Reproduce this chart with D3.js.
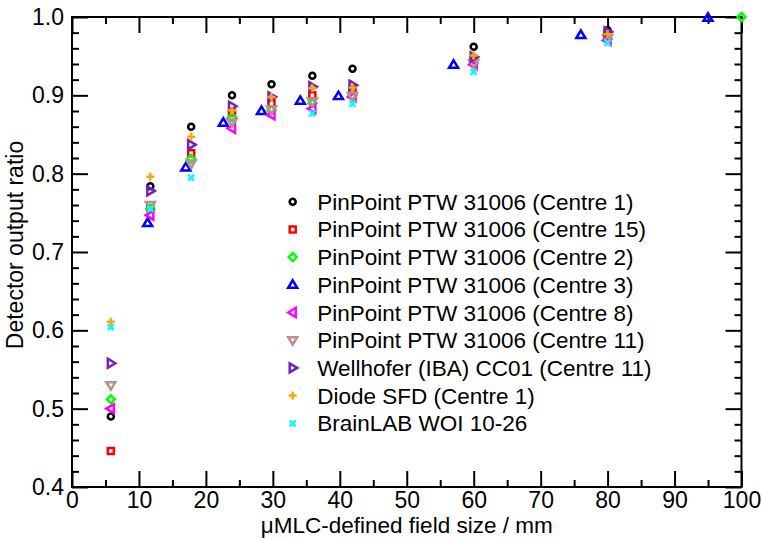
<!DOCTYPE html>
<html lang="en">
<head>
<meta charset="utf-8">
<title>Detector output ratio</title>
<script src="https://d3js.org/d3.v7.min.js"></script>
<style>
  body { margin: 0; background: #fff; }
  text { font-family: "Liberation Sans", Arial, Helvetica, sans-serif; fill: #000; }
</style>
</head>
<body>
<div id="chart"></div>
<script>
// series names (legend order = draw order)
const seriesNames = [
  "PinPoint PTW 31006 (Centre 1)",
  "PinPoint PTW 31006 (Centre 15)",
  "PinPoint PTW 31006 (Centre 2)",
  "PinPoint PTW 31006 (Centre 3)",
  "PinPoint PTW 31006 (Centre 8)",
  "PinPoint PTW 31006 (Centre 11)",
  "Wellhofer (IBA) CC01 (Centre 11)",
  "Diode SFD (Centre 1)",
  "BrainLAB WOI 10-26"
];

// field sizes (mm) and output ratios
const centre1Size  = [5.8, 11.7, 17.8, 23.9, 29.8, 35.9, 41.9, 60, 80];
const centre1Ratio = [0.490, 0.784, 0.860, 0.900, 0.914, 0.925, 0.934, 0.962, 0.983];

const centre15Size  = [5.8, 11.7, 17.8, 23.9, 29.8, 35.9, 41.9, 60, 80];
const centre15Ratio = [0.446, 0.756, 0.826, 0.878, 0.890, 0.900, 0.907, 0.945, 0.976];

const centre2Size  = [5.8, 11.7, 17.8, 23.9, 29.8, 35.9, 41.9, 60, 80, 100];
const centre2Ratio = [0.512, 0.755, 0.819, 0.872, 0.881, 0.890, 0.900, 0.941, 0.972, 1.0];

const centre3Size  = [11.3, 17, 22.6, 28.3, 34.1, 39.8, 57, 76, 95];
const centre3Ratio = [0.737, 0.808, 0.865, 0.880, 0.893, 0.899, 0.939, 0.977, 0.999];

const centre8Size  = [5.8, 11.7, 23.9, 29.8, 35.9, 41.9, 60, 80];
const centre8Ratio = [0.500, 0.747, 0.858, 0.875, 0.883, 0.898, 0.939, 0.970];

const centre11Size  = [5.8, 11.7, 17.8, 23.9, 29.8, 35.9, 41.9, 60, 80];
const centre11Ratio = [0.530, 0.760, 0.813, 0.866, 0.882, 0.892, 0.899, 0.941, 0.973];

const wellhoferSize  = [5.8, 11.7, 17.8, 23.9, 29.8, 35.9, 41.9, 60, 80];
const wellhoferRatio = [0.558, 0.778, 0.837, 0.886, 0.898, 0.911, 0.913, 0.949, 0.981];

const diodeSize  = [5.8, 11.7, 17.8, 23.9, 29.8, 35.9, 41.9, 60, 80];
const diodeRatio = [0.611, 0.796, 0.847, 0.881, 0.898, 0.909, 0.910, 0.951, 0.978];

const brainlabSize  = [5.8, 11.7, 17.8, 35.9, 41.9, 60, 80];
const brainlabRatio = [0.604, 0.755, 0.795, 0.877, 0.889, 0.930, 0.967];

// tick values
const xMajorTicks = [0, 10, 20, 30, 40, 50, 60, 70, 80, 90, 100];
const yMajorTicks = [0.4, 0.5, 0.6, 0.7, 0.8, 0.9, 1.0];

// marker look per series (grace-style hollow symbols)
const colors = ["#000000", "#ff0000", "#00ff00", "#0000ff", "#ff00ff", "#bc8f8f", "#7221bc", "#ffa500", "#00ffff"];
const shapes = [
  "M-3,0a3,3 0 1,0 6,0a3,3 0 1,0 -6,0Z",           // circle
  "M-3,-3H3V3H-3Z",                                  // square
  "M0,-4L4,0L0,4L-4,0Z",                             // diamond
  "M0,-4.5L4.5,3L-4.5,3Z",                           // triangle up
  "M-4.5,0L3,-4.5L3,4.5Z",                           // triangle left
  "M0,4.5L4.5,-3L-4.5,-3Z",                          // triangle down
  "M4.5,0L-3,-4.5L-3,4.5Z",                          // triangle right
  "M-4,0H4M0,-4V4",                                  // plus
  "M-3,-3L3,3M-3,3L3,-3"                             // x
];

const sizes = [centre1Size, centre15Size, centre2Size, centre3Size, centre8Size, centre11Size, wellhoferSize, diodeSize, brainlabSize];
const ratios = [centre1Ratio, centre15Ratio, centre2Ratio, centre3Ratio, centre8Ratio, centre11Ratio, wellhoferRatio, diodeRatio, brainlabRatio];

const series = seriesNames.map((name, i) => ({
  name: name,
  color: colors[i],
  shape: shapes[i],
  points: sizes[i].map((s, j) => ({ x: s, y: ratios[i][j] }))
}));

const W = 761, H = 539;
const margin = { top: 17, right: 19.5, bottom: 52, left: 72 };
const width = W - margin.left - margin.right,
      height = H - margin.top - margin.bottom;

const svg = d3.select("#chart").append("svg")
    .attr("width", W)
    .attr("height", H)
  .append("g")
    .attr("transform", `translate(${margin.left},${margin.top})`);

const x = d3.scaleLinear().domain([0, 100]).range([0, width]);
const y = d3.scaleLinear().domain([0.4, 1.0]).range([height, 0]);

const xMinor = d3.range(5, 100, 10);
const yMinor = d3.range(0, 30).map(i => 0.4 + i * 0.02).filter(v => Math.round(v * 100) % 10 !== 0);

// axes with inward ticks on all four sides
function styleAxis(g) {
  g.select(".domain").remove();
  g.selectAll(".tick line").attr("stroke", "#000").attr("stroke-width", 2);
  g.selectAll(".tick text").style("font-size", "23px");
}

svg.append("g")
  .attr("transform", `translate(0,${height})`)
  .call(d3.axisBottom(x).tickValues(xMajorTicks).tickFormat(d3.format("d"))
    .tickSizeInner(-16).tickSizeOuter(0).tickPadding(5))
  .call(styleAxis);
svg.append("g")
  .attr("transform", `translate(0,${height})`)
  .call(d3.axisBottom(x).tickValues(xMinor).tickFormat("").tickSizeInner(-7).tickSizeOuter(0))
  .call(styleAxis);
svg.append("g")
  .call(d3.axisTop(x).tickValues(xMajorTicks).tickFormat("").tickSizeInner(-16).tickSizeOuter(0))
  .call(styleAxis);
svg.append("g")
  .call(d3.axisTop(x).tickValues(xMinor).tickFormat("").tickSizeInner(-7).tickSizeOuter(0))
  .call(styleAxis);

svg.append("g")
  .call(d3.axisLeft(y).tickValues(yMajorTicks).tickFormat(d3.format(".1f"))
    .tickSizeInner(-16).tickSizeOuter(0).tickPadding(8))
  .call(styleAxis);
svg.append("g")
  .call(d3.axisLeft(y).tickValues(yMinor).tickFormat("").tickSizeInner(-7).tickSizeOuter(0))
  .call(styleAxis);
svg.append("g")
  .attr("transform", `translate(${width},0)`)
  .call(d3.axisRight(y).tickValues(yMajorTicks).tickFormat("").tickSizeInner(-16).tickSizeOuter(0))
  .call(styleAxis);
svg.append("g")
  .attr("transform", `translate(${width},0)`)
  .call(d3.axisRight(y).tickValues(yMinor).tickFormat("").tickSizeInner(-7).tickSizeOuter(0))
  .call(styleAxis);

// frame
svg.append("rect")
  .attr("width", width).attr("height", height)
  .attr("fill", "none").attr("stroke", "#000").attr("stroke-width", 2);

// axis titles
svg.append("text")
  .attr("x", x(50)).attr("y", height + 46)
  .attr("text-anchor", "middle")
  .style("font-size", "22.5px")
  .text("\u03bcMLC-defined field size / mm");

svg.append("text")
  .attr("transform", `translate(${-49},${(height / 2) - 7}) rotate(-90)`)
  .attr("text-anchor", "middle")
  .style("font-size", "23px")
  .text("Detector output ratio");

// data markers
series.forEach(s => {
  svg.append("g")
    .selectAll("path")
    .data(s.points)
    .join("path")
      .attr("transform", d => `translate(${x(d.x)},${y(d.y)})`)
      .attr("d", s.shape)
      .attr("fill", "none")
      .attr("stroke", s.color)
      .attr("stroke-width", 2.5);
});

// legend
const legend = svg.append("g")
  .attr("transform", `translate(${292.7 - margin.left},${201.7 - margin.top})`);

series.forEach((s, i) => {
  const row = legend.append("g").attr("transform", `translate(0,${i * 27.7})`);
  row.append("path")
    .attr("d", s.shape)
    .attr("fill", "none")
    .attr("stroke", s.color)
    .attr("stroke-width", 2.5);
  row.append("text")
    .attr("x", 24.5)
    .attr("y", 8)
    .style("font-size", "22.5px")
    .text(s.name);
});
</script>
</body>
</html>
